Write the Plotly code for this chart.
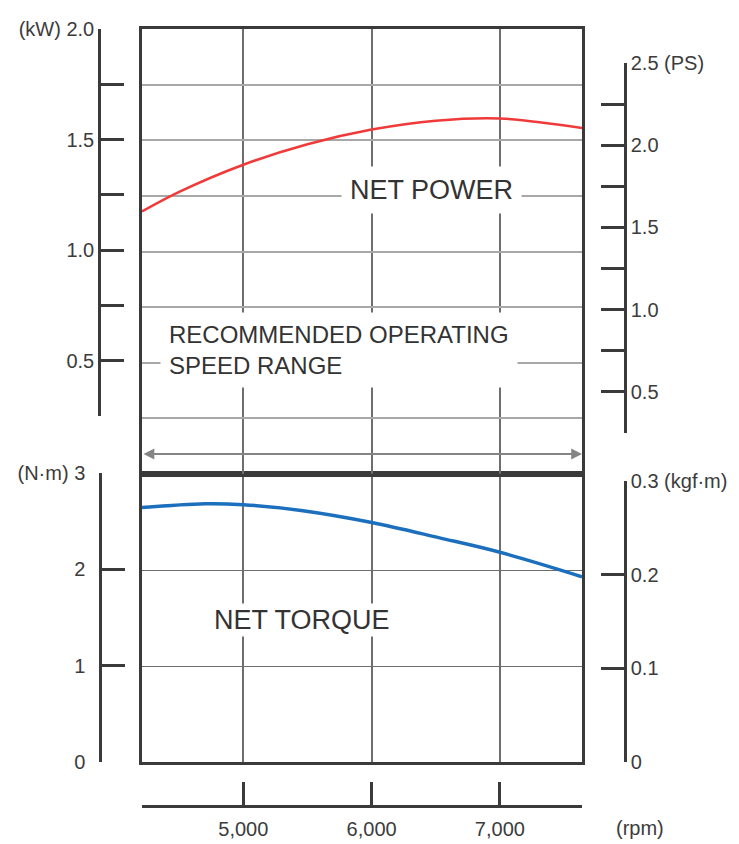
import plotly.graph_objects as go

# Engine speed range shown (rpm) = recommended operating speed range
speed_range = [4210, 7640]

# Net power curve
power_rpm = [4210, 4500, 5000, 5500, 6000, 6500, 7000, 7640]
power_kw = [1.18, 1.268, 1.39, 1.482, 1.548, 1.588, 1.598, 1.555]

# Net torque curve
torque_rpm = [4210, 4700, 5000, 5450, 6000, 6530, 7000, 7640]
torque_nm = [2.65, 2.69, 2.68, 2.62, 2.495, 2.335, 2.185, 1.93]

# grid lines
rpm_grid = [5000, 6000, 7000]
kw_grid = [0.25, 0.5, 0.75, 1.0, 1.25, 1.5, 1.75]
nm_grid = [1, 2]

# bracket scales (ticks + labels)
rpm_ticks = [4210, 5000, 6000, 7000, 7640]
rpm_labels = ['', '5,000', '6,000', '7,000', '']
kw_ticks = [0.25, 0.5, 0.75, 1.0, 1.25, 1.5, 1.75, 2.0]
kw_labels = ['', '0.5', '', '1.0', '', '1.5', '', '(kW) 2.0']
ps_ticks = [0.25, 0.5, 0.75, 1.0, 1.25, 1.5, 1.75, 2.0, 2.25, 2.5]
ps_labels = ['', '0.5', '', '1.0', '', '1.5', '', '2.0', '', '2.5 (PS)']
nm_ticks = [0, 1, 2, 3]
nm_labels = ['0', '1', '2', '(N·m) 3']
kgf_ticks = [0, 0.1, 0.2, 0.3]
kgf_labels = ['0', '0.1', '0.2', '0.3 (kgf·m)']

# page body has an 8px margin, so the figure is a bit smaller than the window
OFF = 8
W, H = 739 - OFF, 844 - OFF
FONT = 'Liberation Sans, Arial, sans-serif'
LINE = '#3a3a3a'
TXT = '#3c3c3c'


def fx(p):
    # window pixel -> paper fraction
    return (p - OFF) / W


def fy(p):
    return 1 - (p - OFF) / H


fig = go.Figure()

fig.add_trace(go.Scatter(x=power_rpm, y=power_kw, xaxis='x2', yaxis='y2', mode='lines',
                         line=dict(color='#f03a3a', width=2.5, shape='spline'),
                         showlegend=False, hoverinfo='skip'))
fig.add_trace(go.Scatter(x=torque_rpm, y=torque_nm, xaxis='x', yaxis='y', mode='lines',
                         line=dict(color='#1b6fbd', width=3.5, shape='spline'),
                         showlegend=False, hoverinfo='skip'))

# empty traces so the bracket scales get drawn
for ya in ['y3', 'y4', 'y5', 'y6']:
    fig.add_trace(go.Scatter(x=[None], y=[None], xaxis='x3', yaxis=ya,
                             showlegend=False, hoverinfo='skip'))

xd = [fx(142), fx(582)]
frame = dict(showline=True, mirror=True, linecolor=LINE, linewidth=2.5, automargin=False,
             zeroline=False, showticklabels=False, ticks='')
bracket = dict(showline=True, linecolor=LINE, linewidth=2.5, ticks='inside',
               ticklen=23, tickwidth=2.5, tickcolor=LINE, showgrid=False,
               zeroline=False, anchor='free', automargin=False,
               tickfont=dict(family=FONT, size=20, color=TXT))

fig.update_layout(
    width=W, height=H,
    margin=dict(l=0, r=0, t=0, b=0, autoexpand=False),
    paper_bgcolor='white', plot_bgcolor='rgba(0,0,0,0)',
    font=dict(family=FONT, color=TXT),
    xaxis=dict(domain=xd, range=speed_range, anchor='y', tickvals=rpm_grid,
               showgrid=True, gridcolor='#6e6e6e', gridwidth=1.5, **frame),
    xaxis2=dict(domain=xd, range=speed_range, anchor='y2', matches='x', tickvals=rpm_grid,
                showgrid=True, gridcolor='#6e6e6e', gridwidth=1.5, **frame),
    yaxis=dict(domain=[fy(762), fy(474)], range=[0, 3], anchor='x', tickvals=nm_grid,
               showgrid=True, gridcolor='#6e6e6e', gridwidth=1, **frame),
    yaxis2=dict(domain=[fy(474), fy(29)], range=[0, 2], anchor='x2', tickvals=kw_grid,
                showgrid=True, gridcolor='#a8a8a8', gridwidth=1.5, **frame),
    xaxis3=dict(domain=xd, range=speed_range, position=fy(806), side='bottom',
                tickvals=rpm_ticks, ticktext=rpm_labels, ticklabelstandoff=4, **bracket),
    yaxis3=dict(domain=[fy(416), fy(29)], range=[0.25, 2.0], position=fx(99), side='left',
                tickvals=kw_ticks, ticktext=kw_labels, **bracket),
    yaxis4=dict(domain=[fy(433), fy(63)], range=[0.25, 2.5], position=fx(625), side='right',
                tickvals=ps_ticks, ticktext=ps_labels, **bracket),
    yaxis5=dict(domain=[fy(762), fy(473)], range=[0, 3], position=fx(100), side='left',
                tickvals=nm_ticks, ticktext=nm_labels, ticklabelstandoff=10, **bracket),
    yaxis6=dict(domain=[fy(762), fy(481)], range=[0, 0.3], position=fx(625), side='right',
                tickvals=kgf_ticks, ticktext=kgf_labels, **bracket),
)

fig.add_annotation(x=6463, y=1.275, xref='x2', yref='y2', text='NET POWER', showarrow=False,
                   font=dict(size=27, color='#333'), bgcolor='white', borderpad=8)
fig.add_annotation(x=4354, y=0.557, xref='x2', yref='y2', xanchor='left', align='left',
                   text='RECOMMENDED OPERATING<br>SPEED RANGE', showarrow=False,
                   font=dict(size=24, color='#333'), bgcolor='white', borderpad=8)
fig.add_annotation(x=5459, y=1.475, xref='x', yref='y', text='NET TORQUE', showarrow=False,
                   font=dict(size=27, color='#333'), bgcolor='white', borderpad=1)
# double arrow for the recommended operating speed range
fig.add_annotation(x=speed_range[1], y=0.09, ax=speed_range[0], ay=0.09,
                   xref='x2', yref='y2', axref='x2', ayref='y2', text='', showarrow=True,
                   arrowside='end+start', arrowhead=2, arrowsize=1.2, arrowwidth=1.8,
                   arrowcolor='#858585', standoff=0, startstandoff=0)
fig.add_annotation(x=fx(640), y=fy(828), xref='paper', yref='paper', text='(rpm)',
                   xanchor='center', yanchor='middle', showarrow=False,
                   font=dict(size=20, color=TXT))

fig.write_html("out.html")
